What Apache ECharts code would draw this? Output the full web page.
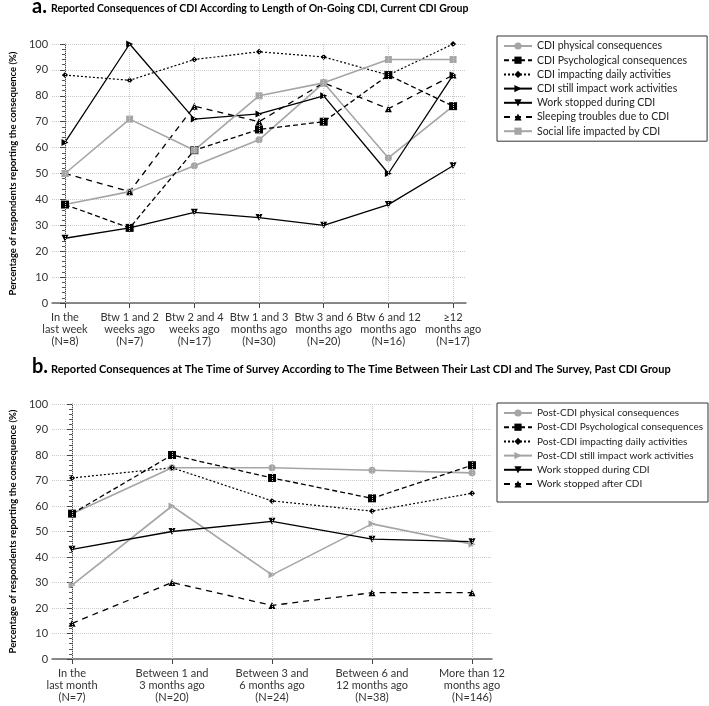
<!DOCTYPE html>
<html><head><meta charset="utf-8">
<script src="https://cdn.jsdelivr.net/npm/echarts@6/dist/echarts.min.js"></script>
<style>html,body{margin:0;padding:0;background:#fff}#c{width:709px;height:706px}</style>
</head><body><div id="c"></div>
<script>
// ---- Panel a data ----
const catsA = ['In the\nlast week\n(N=8)', 'Btw 1 and 2\nweeks ago\n(N=7)', 'Btw 2 and 4\nweeks ago\n(N=17)', 'Btw 1 and 3\nmonths ago\n(N=30)', 'Btw 3 and 6\nmonths ago\n(N=20)', 'Btw 6 and 12\nmonths ago\n(N=16)', '\u226512\nmonths ago\n(N=17)'];
const physA = [38, 43, 53, 63, 85, 56, 76];
const psychA = [38, 29, 59, 67, 70, 88, 76];
const dailyA = [88, 86, 94, 97, 95, 88, 100];
const workImpA = [62, 100, 71, 73, 80, 50, 88];
const workStopA = [25, 29, 35, 33, 30, 38, 53];
const sleepA = [50, 43, 76, 70, 85, 75, 88];
const socialA = [50, 71, 59, 80, 85, 94, 94];
const namesA = ['CDI physical consequences', 'CDI Psychological consequences', 'CDI impacting daily activities', 'CDI still impact work activities', 'Work stopped during CDI', 'Sleeping troubles due to CDI', 'Social life impacted by CDI'];

// ---- Panel b data ----
const catsB = ['In the\nlast month\n(N=7)', 'Between 1 and\n3 months ago\n(N=20)', 'Between 3 and\n6 months ago\n(N=24)', 'Between 6 and\n12 months ago\n(N=38)', 'More than 12\nmonths ago\n(N=146)'];
const physB = [57, 75, 75, 74, 73];
const psychB = [57, 80, 71, 63, 76];
const dailyB = [71, 75, 62, 58, 65];
const workImpB = [29, 60, 33, 53, 45];
const workStopB = [43, 50, 54, 47, 46];
const afterB = [14, 30, 21, 26, 26];
const namesB = ['Post-CDI physical consequences', 'Post-CDI Psychological consequences', 'Post-CDI impacting daily activities', 'Post-CDI still impact work activities', 'Work stopped during CDI', 'Work stopped after CDI'];

const titleA = 'Reported Consequences of CDI According to Length of On-Going CDI, Current CDI Group';
const titleB = 'Reported Consequences at The Time of Survey According to The Time Between Their Last CDI and The Survey, Past CDI Group';
const yName = 'Percentage of respondents reporting the consequence (%)';

const FONT = 'Lato';
const GRAY = '#a5a5a5';
const BLACK = '#000';

const styles = {
  phys:   {color: GRAY, type: 'solid', symbol: 'circle', size: 7, rot: 0, w: 1.6},
  psych:  {color: BLACK, type: [5, 3], symbol: 'rect', size: 8, rot: 0, w: 1.3},
  daily:  {color: BLACK, type: [2, 2], symbol: 'diamond', size: 6, rot: 0, w: 1.2},
  workImp:{color: BLACK, type: 'solid', symbol: 'triangle', size: 7, rot: -90, w: 1.3},
  workImpG:{color: GRAY, type: 'solid', symbol: 'triangle', size: 7, rot: -90, w: 1.6},
  stop:   {color: BLACK, type: 'solid', symbol: 'triangle', size: 7, rot: 180, w: 1.3},
  sleep:  {color: BLACK, type: [6, 5], symbol: 'triangle', size: 7, rot: 0, w: 1.3},
  social: {color: GRAY, type: 'solid', symbol: 'rect', size: 7, rot: 0, w: 1.6}
};

function mkSeries(name, vals, st, gi, vlines) {
  const s = {
    name: name, type: 'line', xAxisIndex: gi, yAxisIndex: gi,
    data: vals.map((v, i) => [i, v]),
    symbol: st.symbol, symbolSize: st.size, symbolRotate: st.rot,
    showAllSymbol: true,
    lineStyle: {color: st.color, width: st.w, type: st.type},
    itemStyle: {color: st.color},
    emphasis: {disabled: true}
  };
  if (vlines) {
    s.markLine = {
      silent: true, symbol: 'none', animation: false,
      label: {show: false},
      lineStyle: {type: 'dotted', color: '#c8c8c8', width: 1},
      emphasis: {disabled: true},
      data: vlines.map((c, i) => ({xAxis: i}))
    };
  }
  return s;
}

function xAx(gi, cats) {
  const idx = cats.map((c, i) => i);
  return {
    type: 'value', gridIndex: gi, min: -0.2, max: cats.length - 1 + 0.2,
    axisLine: {show: true, onZero: false, lineStyle: {color: '#666', width: 1.5}},
    axisTick: {show: true, customValues: idx, length: 5, lineStyle: {color: '#444'}},
    axisLabel: {customValues: idx, formatter: v => cats[Math.round(v)], fontFamily: FONT, fontSize: 11, lineHeight: 12, color: '#333', margin: 8},
    splitLine: {show: false}
  };
}
function yAx(gi) {
  return {
    type: 'value', gridIndex: gi, min: 0, max: 100, interval: 10,
    axisLine: {show: true, lineStyle: {color: '#444'}},
    axisTick: {show: true, length: 5, lineStyle: {color: '#444'}},
    minorTick: {show: true, splitNumber: 5, length: 3, lineStyle: {color: '#555'}},
    axisLabel: {fontFamily: FONT, fontSize: 11, color: '#333', margin: 4},
    splitLine: {show: true, lineStyle: {type: 'dotted', color: '#c8c8c8'}},
    name: yName, nameLocation: 'middle', nameGap: 32,
    nameTextStyle: {fontFamily: FONT, fontWeight: 'bold', fontSize: 9.5, color: '#000'}
  };
}
function legendCfg(names, top, pad, fs) {
  return {
    data: names, orient: 'vertical', left: 497, top: top,
    itemWidth: 28, itemHeight: 9, itemGap: 2.2,
    borderColor: '#333', borderWidth: 1, padding: pad,
    textStyle: {fontFamily: FONT, fontSize: fs, color: '#222', lineHeight: 12},
    selectedMode: false
  };
}

const series = [
  mkSeries(namesA[0], physA, styles.phys, 0, catsA),
  mkSeries(namesA[1], psychA, styles.psych, 0),
  mkSeries(namesA[2], dailyA, styles.daily, 0),
  mkSeries(namesA[3], workImpA, styles.workImp, 0),
  mkSeries(namesA[4], workStopA, styles.stop, 0),
  mkSeries(namesA[5], sleepA, styles.sleep, 0),
  mkSeries(namesA[6], socialA, styles.social, 0),
  mkSeries(namesB[0], physB, styles.phys, 1, catsB),
  mkSeries(namesB[1], psychB, styles.psych, 1),
  mkSeries(namesB[2], dailyB, styles.daily, 1),
  mkSeries(namesB[3], workImpB, styles.workImpG, 1),
  mkSeries(namesB[4] + ' ', workStopB, styles.stop, 1),
  mkSeries(namesB[5], afterB, styles.sleep, 1)
];
const namesB2 = namesB.slice(); namesB2[4] = namesB[4] + ' ';

const chart = echarts.init(document.getElementById('c'), null, {renderer: 'canvas'});
chart.setOption({
  animation: false,
  backgroundColor: '#fff',
  textStyle: {fontFamily: FONT},
  title: [
    {text: 'a.', left: 32, top: -3, padding: 0, textStyle: {fontFamily: FONT, fontSize: 20, fontWeight: 'bold', color: '#000'}},
    {text: titleA, left: 51, top: 3, padding: 0, textStyle: {fontFamily: FONT, fontSize: 10.5, fontWeight: 'bold', color: '#000'}},
    {text: 'b.', left: 32, top: 357, padding: 0, textStyle: {fontFamily: FONT, fontSize: 20, fontWeight: 'bold', color: '#000'}},
    {text: titleB, left: 51, top: 364, padding: 0, textStyle: {fontFamily: FONT, fontSize: 11, fontWeight: 'bold', color: '#000'}}
  ],
  legend: [
    legendCfg(namesA, 36, [4, 20, 4, 6], 10.5),
    legendCfg(namesB2, 403, [4, 5, 12, 6], 10)
  ],
  grid: [
    {left: 45, right: 709 - 466, top: 44, height: 259},
    {left: 46, right: 709 - 492, top: 404, height: 255}
  ],
  xAxis: [xAx(0, catsA), xAx(1, catsB)],
  yAxis: [yAx(0), yAx(1)],
  series: series
});
</script>
</body></html>
